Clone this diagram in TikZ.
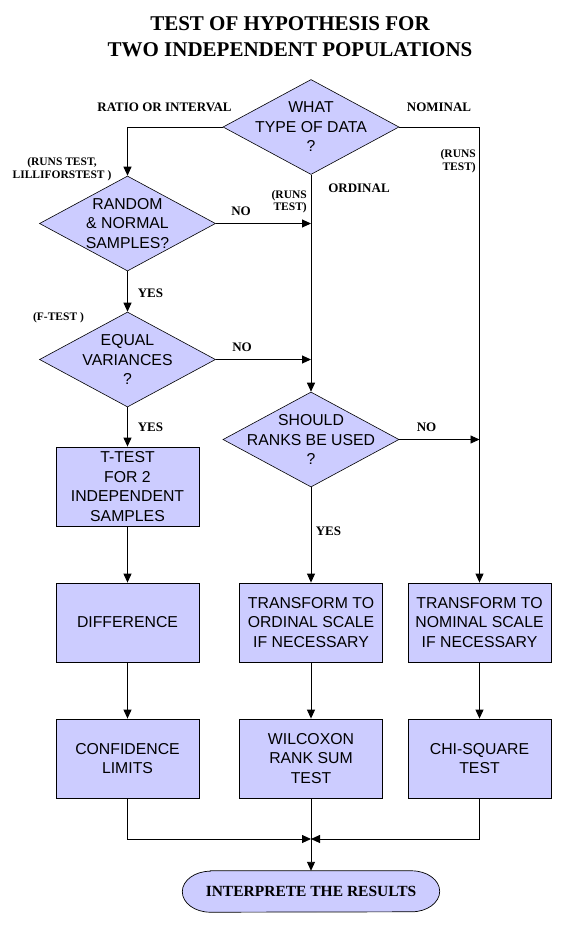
\documentclass[tikz,border=0pt]{standalone}
\usepackage{fontspec}
\setmainfont{Liberation Serif}
\newfontfamily\arialf{Liberation Sans}
\usetikzlibrary{shapes.geometric,arrows.meta,backgrounds}
\definecolor{lav}{RGB}{204,204,255}
\begin{document}
\begin{tikzpicture}[x=1pt,y=-1pt,
 titletext/.style={font=\bfseries\fontsize{21}{26}\selectfont, align=center, inner sep=0pt},
 boxtext/.style={font=\arialf\fontsize{15.8}{19.5}\selectfont, align=center},
 procbox/.style={draw, fill=lav, line width=0.8pt, minimum width=143pt, minimum height=79pt, inner sep=0pt, boxtext},
 decision/.style={diamond, draw, fill=lav, line width=0.6pt, minimum width=176pt, minimum height=95pt, inner sep=0pt},
 dtext/.style={boxtext, inner sep=0pt},
 lbl/.style={font=\bfseries\fontsize{13}{15}\selectfont, inner sep=0pt},
 paren/.style={font=\bfseries\fontsize{11.5}{12.5}\selectfont, inner sep=0pt},
 conn/.style={line width=0.9pt, -{Triangle[length=9pt,width=8pt]}},
 link/.style={line width=0.9pt}
]
\useasboundingbox (0,0) rectangle (569,930);

\node[titletext] (title) at (290,37) {TEST OF HYPOTHESIS FOR\\TWO INDEPENDENT POPULATIONS};

% decisions
\node[decision, label={[dtext]center:{WHAT\\TYPE OF DATA\\?}}] (d1) at (311,127) {};
\node[decision, label={[dtext]center:{RANDOM\\\&~NORMAL\\SAMPLES?}}] (d2) at (127.5,223.5) {};
\node[decision, label={[dtext]center:{EQUAL\\VARIANCES\\?}}] (d3) at (127.5,359.5) {};
\node[decision, label={[dtext]center:{SHOULD\\RANKS BE USED\\?}}] (d4) at (311,439.5) {};

% process boxes
\node[procbox] (tt) at (127.5,486.5) {T-TEST\\FOR 2\\INDEPENDENT\\SAMPLES};
\node[procbox] (diff) at (127.5,622.5) {DIFFERENCE};
\node[procbox] (ord) at (311,622.5) {TRANSFORM TO\\ORDINAL SCALE\\IF NECESSARY};
\node[procbox] (nom) at (479.5,622.5) {TRANSFORM TO\\NOMINAL SCALE\\IF NECESSARY};
\node[procbox] (conf) at (127.5,758.5) {CONFIDENCE\\LIMITS};
\node[procbox] (wil) at (311,758.5) {WILCOXON\\RANK SUM\\TEST};
\node[procbox] (chi) at (479.5,758.5) {CHI-SQUARE\\TEST};

% terminal
\node[minimum width=257pt, minimum height=41pt, inner sep=0pt, font=\bfseries\fontsize{15.5}{17}\selectfont] (res) at (311,891.5) {INTERPRETE THE RESULTS};
\begin{scope}[on background layer]
\draw[fill=lav, line width=0.7pt] ([xshift=28pt]res.north west) -- ([xshift=-28pt]res.north east)
  arc[start angle=90, end angle=-90, x radius=28pt, y radius=20.5pt]
  -- ([xshift=28pt]res.south west)
  arc[start angle=270, end angle=90, x radius=28pt, y radius=20.5pt] -- cycle;
\end{scope}

% junction coordinates
\coordinate (j1) at (d1.south |- d2.east);
\coordinate (j2) at (d1.south |- d3.east);
\coordinate (j3) at (nom.north |- d4.east);
\coordinate (m) at (311,839);

% connectors
\draw[conn] (d1.west) -| (d2.north);
\draw[conn] (d1.east) -| (nom.north);
\draw[conn] (d1.south) -- (d4.north);
\draw[conn] (d2.east) -- (j1);
\draw[conn] (d3.east) -- (j2);
\draw[conn] (d4.east) -- (j3);
\draw[conn] (d2.south) -- (d3.north);
\draw[conn] (d3.south) -- (tt.north);
\draw[conn] (tt.south) -- (diff.north);
\draw[conn] (d4.south) -- (ord.north);
\draw[conn] (diff.south) -- (conf.north);
\draw[conn] (ord.south) -- (wil.north);
\draw[conn] (nom.south) -- (chi.north);
\draw[conn] (conf.south) |- (m);
\draw[conn] (chi.south) |- (m);
\draw[conn] (wil.south) -- (res.north);

% labels
\node[lbl] (lratio) at (164.5,107.5) {RATIO OR INTERVAL};
\node[lbl] (lnom) at (439,107.5) {NOMINAL};
\node[paren, align=right, anchor=east] (lruns1) at (476,161) {(RUNS\\TEST)};
\node[lbl] (lord) at (359,188.5) {ORDINAL};
\node[paren, align=center] (llil) at (62,169) {(RUNS TEST,\\LILLIFORSTEST )};
\node[lbl] (lno1) at (241,211) {NO};
\node[paren, align=right, anchor=east] (lruns2) at (307,201.5) {(RUNS\\TEST)};
\node[lbl] (lyes1) at (150.5,293) {YES};
\node[paren] (lf) at (58.5,317.5) {(F-TEST )};
\node[lbl] (lno2) at (242,347) {NO};
\node[lbl] (lyes2) at (150.5,427) {YES};
\node[lbl] (lno3) at (426.5,427) {NO};
\node[lbl] (lyes3) at (328.5,531) {YES};
\end{tikzpicture}
\end{document}
